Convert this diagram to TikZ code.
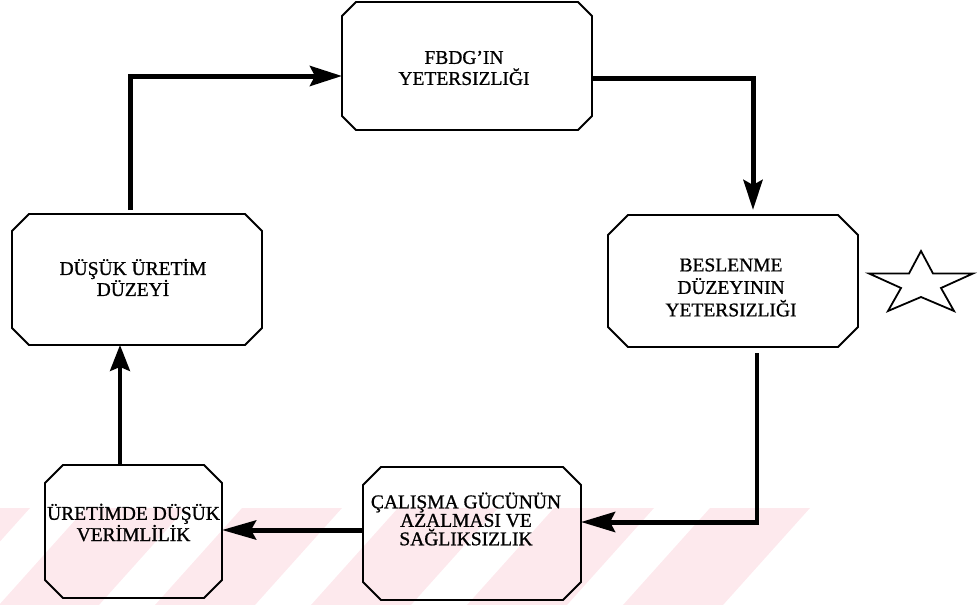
\documentclass[tikz,border=0pt]{standalone}
\usepackage{fontspec}
\setmainfont{Liberation Serif}
\newfontfamily\lblfont{Liberation Serif}[FakeBold=0.9]
\usetikzlibrary{arrows.meta}
\definecolor{wm}{RGB}{253,233,237}
\newcommand\chamfbox[2]{\draw[boxline] ([xshift=#2]#1.north west) -- ([xshift=-#2]#1.north east) -- ([yshift=-#2]#1.north east) -- ([yshift=#2]#1.south east) -- ([xshift=-#2]#1.south east) -- ([xshift=#2]#1.south west) -- ([yshift=#2]#1.south west) -- ([yshift=-#2]#1.north west) -- cycle;}
\begin{document}
\begin{tikzpicture}[x=1pt,y=-1pt,
  box/.style={rectangle, draw=none, inner sep=0pt, outer sep=0pt},
  boxline/.style={line width=1.8pt, line join=miter},
  lbl/.style={align=center, font=\lblfont\fontsize{19.5}{21}\selectfont, inner sep=0pt},
  conn/.style={line width=5pt, -{Stealth[length=32pt,width=20pt,inset=5pt]}},
  thinconn/.style={line width=3.5pt, -{Stealth[length=26pt,width=20pt,inset=4pt]}}
]
\useasboundingbox (0,0) rectangle (980,605);
% watermark
\begin{scope}
\clip (0,508) rectangle (812,605);
\foreach \b in {-157,-1,155,311,467,623}
  \fill[wm] (\b,605) -- (\b+100,605) -- (\b+187,508) -- (\b+87,508) -- cycle;
\end{scope}
% boxes
\node[box, minimum width=250pt, minimum height=128pt] (T) at (467,66) {};
\node[box, minimum width=250pt, minimum height=132pt] (R) at (733,281) {};
\node[box, minimum width=250pt, minimum height=131pt] (L) at (137,279.5) {};
\node[box, minimum width=177pt, minimum height=133pt] (BL) at (133.5,531.5) {};
\node[box, minimum width=218pt, minimum height=133pt] (BM) at (472,533.5) {};
\chamfbox{T}{14pt}
\chamfbox{R}{20pt}
\chamfbox{L}{17pt}
\chamfbox{BL}{18pt}
\chamfbox{BM}{18pt}
% labels
\node[lbl] (Tt) at (464,68) {FBDG’IN\\YETERSIZLIĞI};
\node[lbl, font=\lblfont\fontsize{19.5}{22.5}\selectfont] (Rt) at (731,287.5) {BESLENME\\DÜZEYININ\\YETERSIZLIĞI};
\node[lbl] (Lt) at (133,277.5) {DÜŞÜK ÜRETİM\\DÜZEYİ};
\node[lbl, font=\lblfont\fontsize{19.5}{19.5}\selectfont] (BLt) at (133.5,522.5) {ÜRETİMDE DÜŞÜK\\VERİMLİLİK};
\node[lbl, font=\lblfont\fontsize{19.5}{18.5}\selectfont] (BMt) at (466,519) {ÇALIŞMA GÜCÜNÜN\\AZALMASI VE\\SAĞLIKSIZLIK};
% connectors
\draw[conn] ([xshift=-7pt,yshift=4pt]L.north) |- ([yshift=-10pt]T.west);
\draw[conn, -{Stealth[length=30pt,width=19pt,inset=5pt]}] ([yshift=-12pt]T.east) -| ([xshift=20pt,yshift=5pt]R.north);
\coordinate (c3) at (757,522);
\draw[line width=3.5pt] ([xshift=24pt,yshift=-6pt]R.south) -- ([yshift=-2.5pt]c3);
\draw[conn, -{Stealth[length=34pt,width=20pt,inset=5pt]}] (c3) -- (c3 -| BM.east);
\draw[conn, -{Stealth[length=34pt,width=19pt,inset=5pt]}] ([yshift=3.5pt]BM.west) -- ([yshift=3.5pt]BM.west -| BL.east);
\draw[thinconn] ([xshift=-13.5pt]BL.north) -- ([xshift=-13.5pt]BL.north |- L.south);
% star
\draw[line width=1.8pt, line join=miter] (921,251) -- (909,273.5) -- (869,273.5) -- (901,288) -- (888,311) -- (921,297) -- (954,311) -- (941,288) -- (973,273.5) -- (933,273.5) -- cycle;
\end{tikzpicture}
\end{document}
